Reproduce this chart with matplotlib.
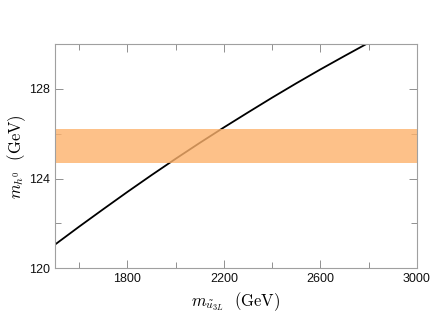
import numpy as np
import matplotlib
matplotlib.use('Agg')
import matplotlib.pyplot as plt

# stop mass (GeV) and lightest higgs mass (GeV)
m_stop = [1500, 1600, 1700, 1800, 1900, 2000, 2100, 2200,
          2300, 2400, 2500, 2600, 2700, 2800]
m_h = [121.05, 121.85, 122.63, 123.40, 124.15, 124.88, 125.59, 126.28,
       126.95, 127.61, 128.25, 128.87, 129.47, 130.06]

# experimental band
band_lo, band_hi = 124.7, 126.2

xmajor = [1800, 2200, 2600, 3000]
xminor = [1600, 2000, 2400, 2800]
ymajor = [120, 124, 128]
yminor = [122, 126, 130]

plt.rcParams['mathtext.fontset'] = 'cm'
plt.rcParams['font.family'] = ['Liberation Sans', 'DejaVu Sans']

fig = plt.figure(figsize=(4.36, 3.27), dpi=100)
ax = fig.add_axes([0.126, 0.180, 0.830, 0.685])

ax.plot(m_stop, m_h, color='black', lw=1.3, zorder=1)
ax.axhspan(band_lo, band_hi, color='#fdb26c', alpha=0.8, lw=0, zorder=2)

ax.set_xlim(1500, 3000)
ax.set_ylim(120, 130)
ax.set_xticks(xmajor)
ax.set_xticks(xminor, minor=True)
ax.set_yticks(ymajor)
ax.set_yticks(yminor, minor=True)

for s in ax.spines.values():
    s.set_color('#a0a0a0')
    s.set_linewidth(0.8)
ax.tick_params(which='both', direction='in', top=True, right=True,
               color='#909090', labelsize=9, labelcolor='#111111')
ax.tick_params(which='major', length=6, width=0.7)
ax.tick_params(which='minor', length=4, width=0.7)

ax.set_xlabel(r'$m_{\tilde{u}_{3L}}\ \ \mathrm{(GeV)}$', fontsize=12, labelpad=4)
ax.set_ylabel(r'$m_{h^0}\ \ \mathrm{(GeV)}$', fontsize=12, labelpad=1)

fig.savefig('out.png', dpi=100)
